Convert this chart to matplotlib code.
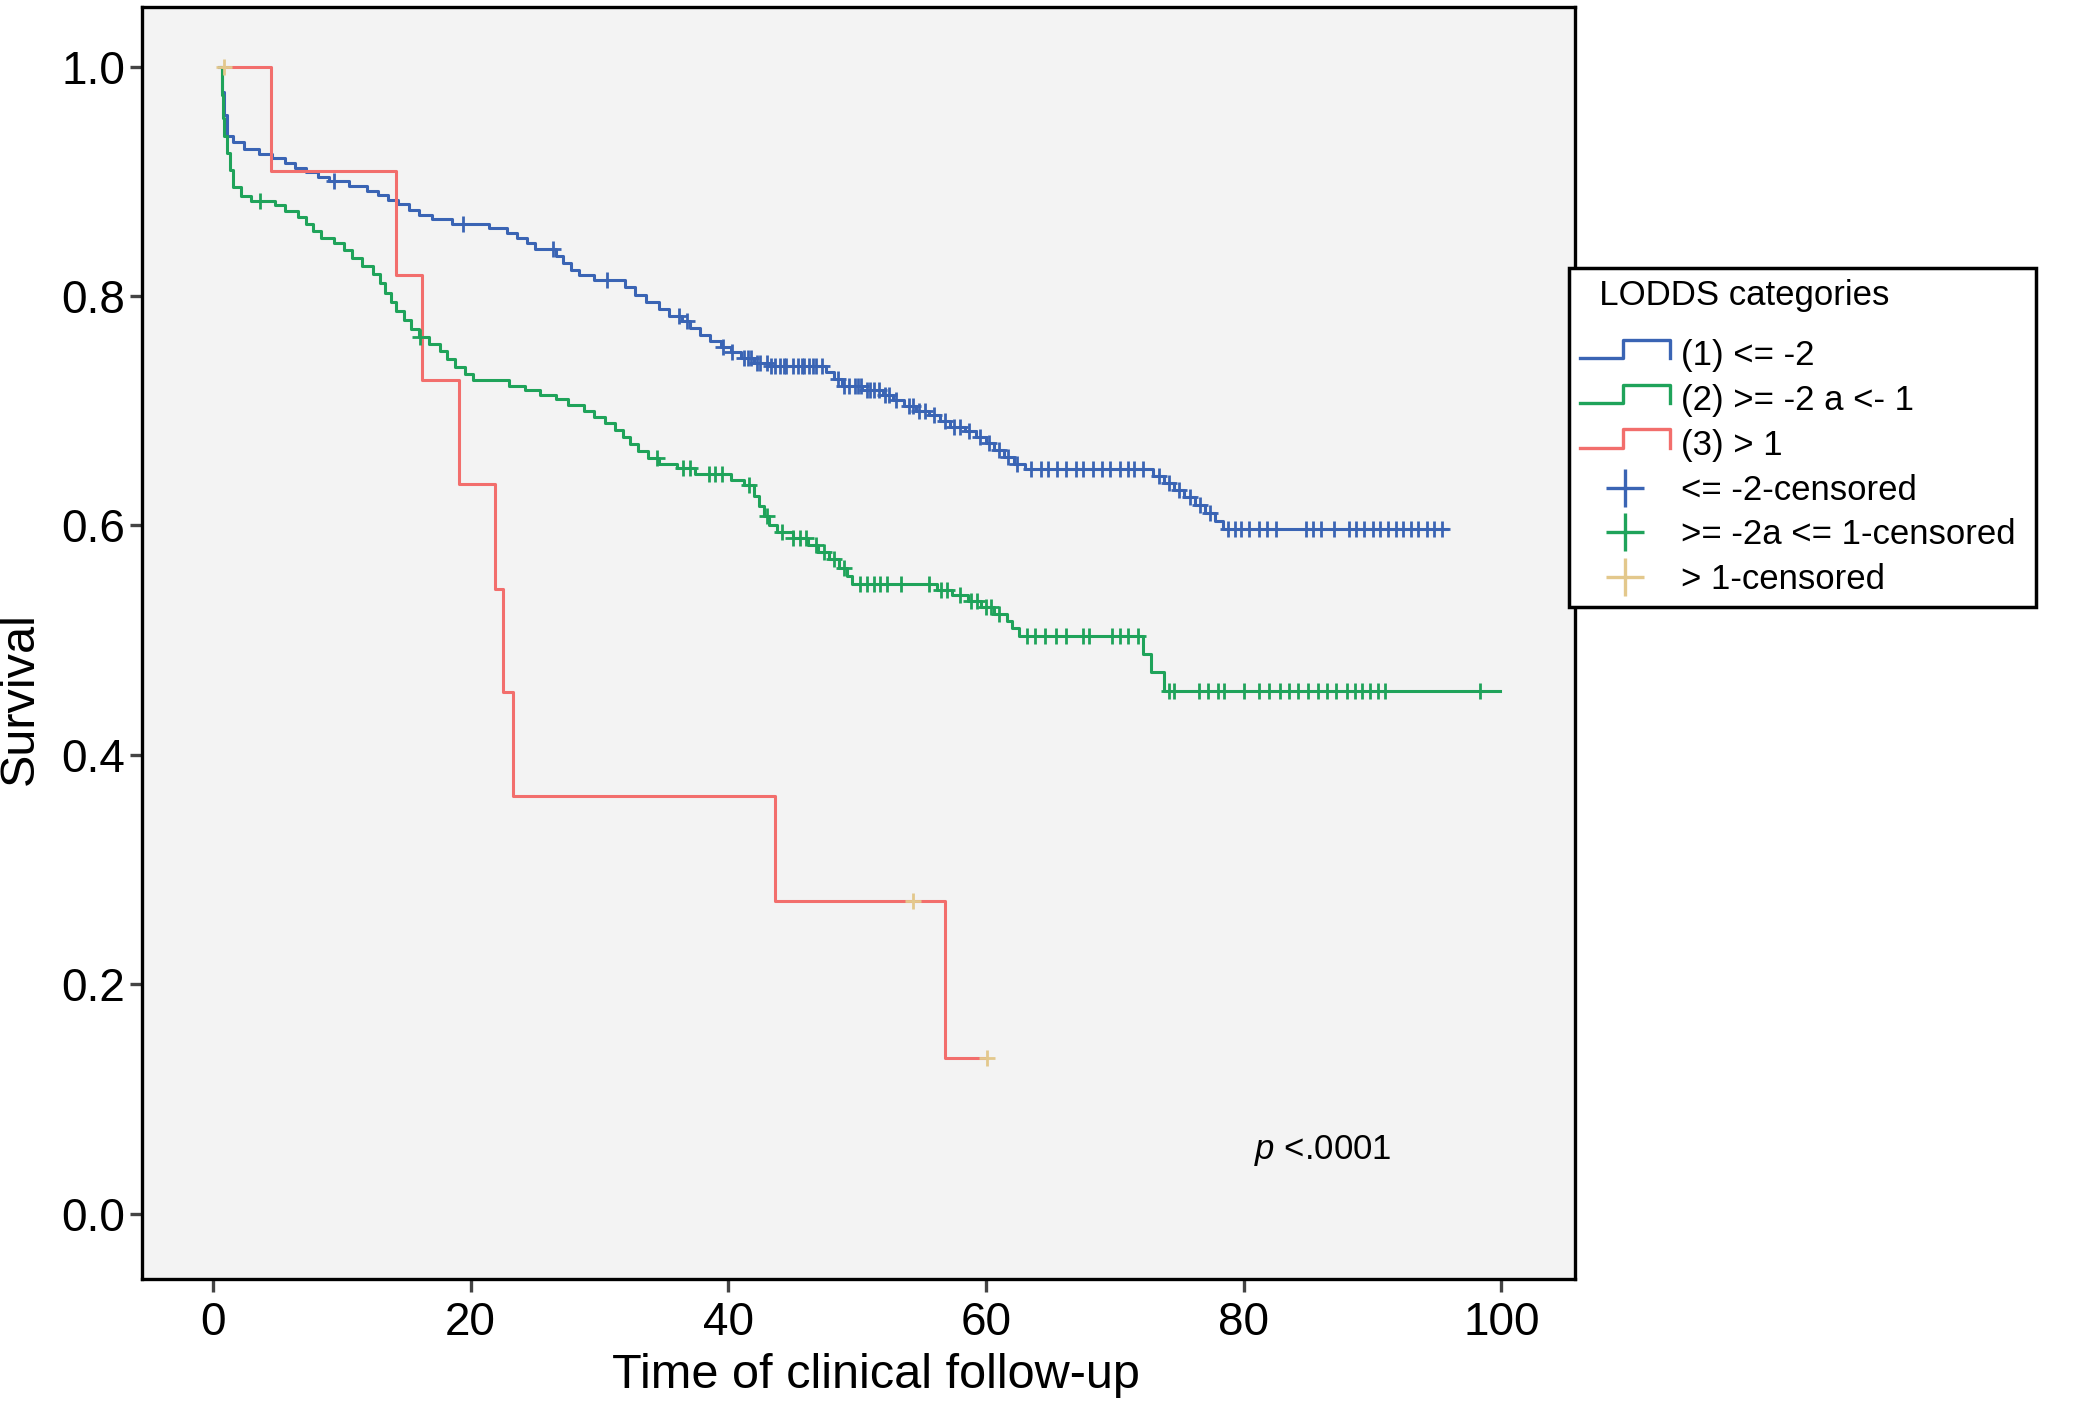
import matplotlib
matplotlib.use('Agg')
import matplotlib.pyplot as plt
import numpy as np
from matplotlib.lines import Line2D
from matplotlib.legend_handler import HandlerBase

plt.rcParams['font.family'] = ['Liberation Sans', 'DejaVu Sans']
plt.rcParams['mathtext.fontset'] = 'custom'
plt.rcParams['mathtext.it'] = 'Liberation Sans:italic'
plt.rcParams['mathtext.rm'] = 'Liberation Sans'

# Kaplan-Meier steps (time, survival after the step)
blue_time = [0.5, 0.7, 0.9, 1.1, 1.6, 2.4, 3.6, 4.6, 5.6, 6.4, 7.2, 8.2, 9.0, 10.6, 12.0,
             12.8, 13.6, 14.4, 15.2, 16.0, 17.0, 18.6, 21.4, 22.8, 23.6, 24.4, 25.0, 26.6,
             27.2, 27.8, 28.4, 29.6, 32.0, 32.8, 33.6, 34.6, 35.4, 36.4, 37.0, 37.8, 38.6,
             39.4, 40.2, 41.0, 42.0, 43.2, 47.6, 48.2, 48.8, 50.4, 52.0, 52.8, 53.6, 54.6,
             55.6, 56.4, 57.2, 58.4, 59.2, 60.0, 60.6, 61.4, 62.2, 63.0, 73.0, 73.8, 74.6,
             75.4, 76.2, 77.0, 77.8, 78.4, 95.8]
blue_surv = [1.0, 0.978, 0.958, 0.940, 0.934, 0.928, 0.924, 0.920, 0.916, 0.912, 0.908, 0.904,
             0.900, 0.896, 0.892, 0.888, 0.884, 0.880, 0.875, 0.871, 0.867, 0.863, 0.859,
             0.855, 0.851, 0.846, 0.841, 0.835, 0.829, 0.823, 0.818, 0.814, 0.808, 0.801,
             0.795, 0.789, 0.783, 0.778, 0.772, 0.766, 0.761, 0.756, 0.751, 0.746, 0.742,
             0.739, 0.734, 0.728, 0.722, 0.718, 0.714, 0.709, 0.704, 0.700, 0.696, 0.691,
             0.686, 0.682, 0.677, 0.672, 0.666, 0.660, 0.654, 0.649, 0.643, 0.637, 0.631,
             0.625, 0.618, 0.611, 0.604, 0.597, 0.597]
blue_cens = [9.4, 19.4, 26.4, 30.6, 36.2, 36.8, 39.6, 40.3, 41.2, 41.5, 41.8, 42.2, 42.5,
             43.0, 43.3, 43.6, 44.0, 44.3, 44.5, 45.0, 45.4, 45.7, 45.9, 46.3, 46.6, 46.8,
             47.3, 48.5, 49.0, 49.4, 49.8, 50.1, 50.3, 50.8, 51.0, 51.3, 51.7, 52.2, 52.5,
             53.0, 54.0, 54.3, 54.8, 55.3, 56.0, 56.8, 57.5, 58.0, 58.7, 59.5, 60.2, 61.0,
             61.7, 62.4, 63.5, 64.3, 64.8, 65.5, 66.2, 67.0, 67.5, 68.3, 69.0, 69.6, 70.4,
             71.0, 71.5, 72.2, 73.4, 74.2, 75.0, 75.8, 76.6, 77.4, 78.8, 79.3, 79.8, 80.4,
             81.2, 81.8, 82.5, 84.8, 85.4, 86.0, 87.0, 88.2, 88.7, 89.3, 90.0, 90.6, 91.2,
             91.8, 92.4, 93.0, 93.5, 94.2, 94.8, 95.4]

green_time = [0.6, 0.7, 0.8, 0.9, 1.1, 1.3, 1.6, 2.2, 3.0, 4.8, 5.6, 6.6, 7.2, 7.8, 8.4, 9.4,
              10.2, 10.8, 11.6, 12.4, 13.0, 13.4, 13.8, 14.2, 14.8, 15.4, 16.0, 16.8, 17.6,
              18.2, 18.8, 19.6, 20.2, 23.0, 24.2, 25.4, 26.6, 27.6, 28.8, 29.6, 30.4, 31.2,
              31.8, 32.4, 33.0, 33.8, 34.6, 36.0, 37.4, 40.2, 41.2, 42.0, 42.4, 42.8, 43.2,
              43.8, 45.0, 46.2, 47.0, 47.8, 48.6, 49.2, 49.6, 56.2, 57.4, 58.6, 59.6, 60.6,
              61.6, 62.0, 62.6, 72.2, 72.8, 73.8, 99.9]
green_surv = [1.0, 0.975, 0.955, 0.940, 0.925, 0.910, 0.895, 0.887, 0.883, 0.879, 0.874,
              0.869, 0.863, 0.857, 0.851, 0.846, 0.840, 0.833, 0.826, 0.819, 0.811, 0.803,
              0.795, 0.787, 0.779, 0.771, 0.764, 0.758, 0.752, 0.745, 0.738, 0.732, 0.727,
              0.722, 0.718, 0.714, 0.710, 0.705, 0.700, 0.695, 0.689, 0.683, 0.677, 0.671,
              0.665, 0.659, 0.654, 0.650, 0.645, 0.640, 0.635, 0.626, 0.617, 0.608, 0.600,
              0.594, 0.589, 0.583, 0.577, 0.571, 0.563, 0.556, 0.549, 0.544, 0.539, 0.534,
              0.529, 0.523, 0.517, 0.511, 0.504, 0.488, 0.472, 0.456, 0.456]
green_cens = [3.7, 16.1, 34.5, 36.5, 37.0, 38.5, 39.0, 39.5, 41.6, 43.0, 44.2, 45.0, 45.6, 46.0,
              46.8, 47.4, 48.2, 49.0, 50.2, 50.8, 51.3, 51.8, 52.3, 53.4, 55.6, 56.5, 57.0, 58.0,
              58.8, 59.3, 60.0, 60.4, 61.0, 63.2, 63.8, 64.6, 65.4, 66.2, 67.5, 68.0, 69.8, 70.4,
              71.0, 71.8, 74.2, 74.6, 76.5, 77.2, 78.0, 78.5, 80.0, 81.2, 82.0, 82.8, 83.5, 84.2,
              85.0, 85.8, 86.5, 87.2, 88.0, 88.6, 89.2, 89.8, 90.4, 91.0, 98.3]

red_time = [0.8, 4.5, 14.2, 16.2, 19.1, 21.9, 22.5, 23.3, 43.6, 56.8, 60.1]
red_surv = [1.0, 0.909, 0.818, 0.727, 0.636, 0.545, 0.455, 0.364, 0.273, 0.136, 0.136]
red_cens = [0.9, 54.3, 60.1]

labels = ['(1) <= -2', '(2) >= -2 a <- 1', '(3) > 1',
          '<= -2-censored', '>= -2a <= 1-censored ', '> 1-censored']

blue = '#3A64B4'
green = '#1FA35A'
red = '#F26E6C'
tan = '#E3C88C'


def surv_at(times, surv, t):
    # value of the step function at the censoring times
    idx = np.searchsorted(times, t, side='right') - 1
    return np.array(surv)[idx]


class StepHandler(HandlerBase):
    def create_artists(self, legend, orig_handle, xdescent, ydescent, width, height, fontsize, trans):
        x0, y0 = -xdescent, -ydescent
        lo, hi = y0 + 0.3 * height, y0 + 1.05 * height
        xs = [x0, x0 + 0.48 * width, x0 + 0.48 * width, x0 + width, x0 + width]
        ys = [lo, lo, hi, hi, lo]
        line = Line2D(xs, ys, color=orig_handle.get_color(), lw=2.4)
        line.set_transform(trans)
        return [line]


fig = plt.figure(figsize=(20.84, 14.13), dpi=100)
ax = fig.add_axes([0.0681, 0.0948, 0.6876, 0.9002])
ax.set_facecolor('#F3F3F3')

h1, = ax.step(blue_time, blue_surv, where='post', color=blue, lw=2.2)
h2, = ax.step(green_time, green_surv, where='post', color=green, lw=2.2)
h3, = ax.step(red_time, red_surv, where='post', color=red, lw=2.2)

ax.plot(blue_cens, surv_at(blue_time, blue_surv, blue_cens), ls='none', marker='+',
        ms=12, mew=2.0, color=blue)
ax.plot(green_cens, surv_at(green_time, green_surv, green_cens), ls='none', marker='+',
        ms=12, mew=2.0, color=green)
ax.plot(red_cens, surv_at(red_time, red_surv, red_cens), ls='none', marker='+',
        ms=12, mew=2.0, color=tan)

ax.set_xlim(-5.5, 105.7)
ax.set_ylim(-0.057, 1.052)
ax.set_xticks([0, 20, 40, 60, 80, 100])
ax.set_yticks([0.0, 0.2, 0.4, 0.6, 0.8, 1.0])
ax.set_yticklabels(['0.0', '0.2', '0.4', '0.6', '0.8', '1.0'])
ax.tick_params(direction='out', length=9, width=2.4, color='#444444', labelsize=33, pad=3)
ax.tick_params(axis='x', pad=7)
for sp in ax.spines.values():
    sp.set_linewidth(2.4)
    sp.set_color('black')

ax.set_xlabel('Time of clinical follow-up', fontsize=35)
ax.xaxis.set_label_coords(0.512, -0.058)
ax.set_ylabel('Survival', fontsize=35)
ax.yaxis.set_label_coords(-0.069, 0.456)

ax.text(80.8, 0.055, r'$p$ <.0001', fontsize=25, ha='left', va='center')

c1 = Line2D([], [], ls='none', marker='+', ms=28, mew=2.4, color=blue)
c2 = Line2D([], [], ls='none', marker='+', ms=28, mew=2.4, color=green)
c3 = Line2D([], [], ls='none', marker='+', ms=28, mew=2.4, color=tan)

leg = fig.legend([h1, h2, h3, c1, c2, c3], labels, title='  LODDS categories',
                 loc='upper left', bbox_to_anchor=(0.7529, 0.8103), borderaxespad=0,
                 fontsize=25, title_fontsize=25, frameon=True, fancybox=False,
                 edgecolor='black', framealpha=1, handlelength=2.6, handletextpad=0.3,
                 borderpad=0.32, labelspacing=0.34, alignment='left',
                 handler_map={h1: StepHandler(), h2: StepHandler(), h3: StepHandler()})
leg.get_frame().set_linewidth(2.5)
leg._legend_box.sep = 19.5  # extra gap under the title

fig.savefig('out.png', dpi=100)
